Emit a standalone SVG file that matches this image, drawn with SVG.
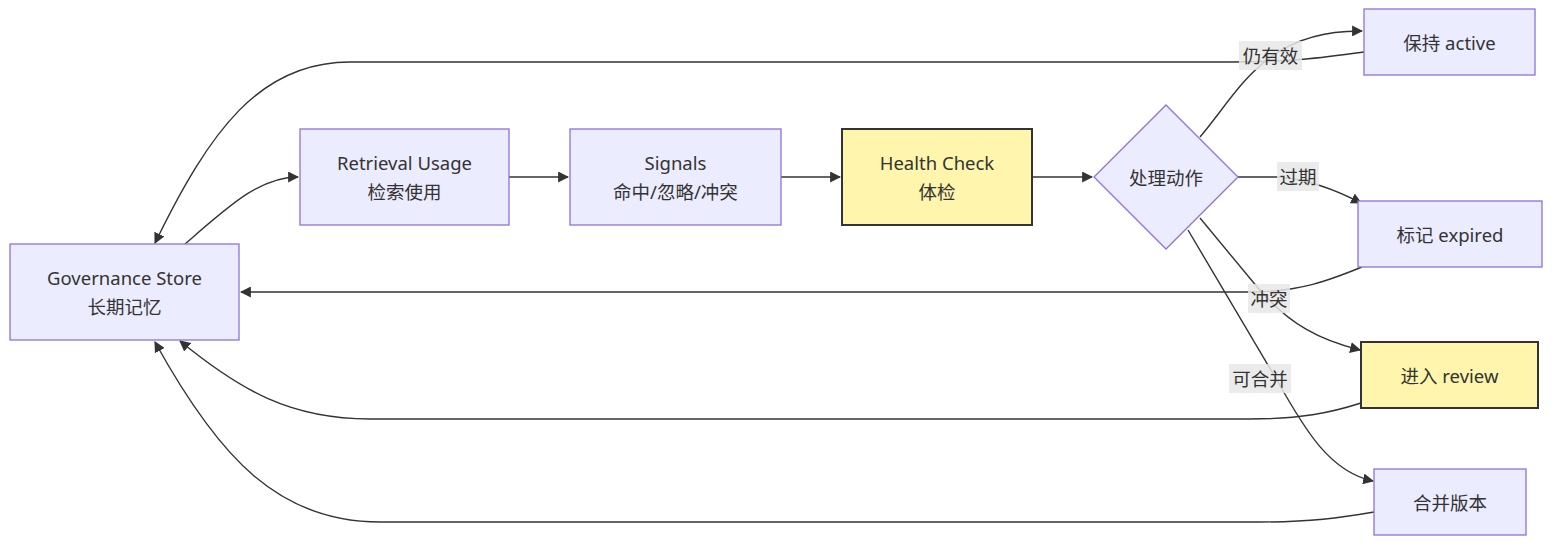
<svg xmlns="http://www.w3.org/2000/svg" width="1568" height="552" viewBox="0 0 1568 552">
<defs>
<marker id="arr" viewBox="0 0 10 10" refX="9" refY="5" markerWidth="11" markerHeight="11" markerUnits="userSpaceOnUse" orient="auto">
<path d="M0,0 L10,5 L0,10 z" fill="#333"/>
</marker>
<style>
.n{fill:#ECECFF;stroke:#9370DB;stroke-width:1.3}
.y{fill:#FFF5AD;stroke:#333;stroke-width:2}
.t{font-family:"Noto Sans","Noto Sans CJK SC",sans-serif;font-size:18.5px;fill:#333;text-anchor:middle;dominant-baseline:central}
.e{fill:none;stroke:#333;stroke-width:1.4}
.lb{fill:#E8E8E8;opacity:0.85}
</style>
</defs>
<rect width="1568" height="552" fill="#fff"/>
<g id="connectors">
<path class="e" d="M185,244 C230,205 260,177 298,177" marker-end="url(#arr)"/>
<path class="e" d="M509,177 L568,177" marker-end="url(#arr)"/>
<path class="e" d="M781,177 L840,177" marker-end="url(#arr)"/>
<path class="e" d="M1032,177 L1092,177" marker-end="url(#arr)"/>
<path class="e" d="M1200,137 C1240,90 1265,30 1362,31" marker-end="url(#arr)"/>
<path class="e" d="M1364,52 C1320,58 1290,62 1230,62 L350,62 C260,62 210,130 155,243" marker-end="url(#arr)"/>
<path class="e" d="M1238,177 L1280,177 C1310,180 1340,192 1361,203" marker-end="url(#arr)"/>
<path class="e" d="M1362,267 C1330,280 1300,292 1250,292 L241,292" marker-end="url(#arr)"/>
<path class="e" d="M1200,218 L1258,288 C1290,325 1320,340 1360,350" marker-end="url(#arr)"/>
<path class="e" d="M1361,403 C1330,413 1300,419 1250,419 L370,419 C290,419 240,390 180,341" marker-end="url(#arr)"/>
<path class="e" d="M1188,230 L1278,382 C1305,430 1330,472 1373,481" marker-end="url(#arr)"/>
<path class="e" d="M1374,512 C1340,518 1310,522 1260,522 L380,522 C280,522 220,460 155,342" marker-end="url(#arr)"/>
<rect class="lb" x="1239" y="41" width="63" height="29"/>
<text class="t" x="1270.5" y="55">仍有效</text>
<rect class="lb" x="1277" y="162" width="42" height="29"/>
<text class="t" x="1298" y="176">过期</text>
<rect class="lb" x="1248" y="284" width="42" height="29"/>
<text class="t" x="1269" y="298">冲突</text>
<rect class="lb" x="1229" y="364" width="62" height="29"/>
<text class="t" x="1260" y="378">可合并</text>
</g>
<g id="governance">
<rect class="n" x="10" y="244" width="229" height="96"/>
<text class="t" x="124.5" y="277">Governance Store</text>
<text class="t" x="124.5" y="306">长期记忆</text>
</g>
<g id="retrieval">
<rect class="n" x="300" y="129" width="209" height="96"/>
<text class="t" x="404.5" y="162">Retrieval Usage</text>
<text class="t" x="404.5" y="191">检索使用</text>
</g>
<g id="signals">
<rect class="n" x="570" y="129" width="211" height="96"/>
<text class="t" x="675.5" y="162">Signals</text>
<text class="t" x="675.5" y="191">命中/忽略/冲突</text>
</g>
<g id="health">
<rect class="y" x="842" y="129" width="190" height="96"/>
<text class="t" x="937" y="162">Health Check</text>
<text class="t" x="937" y="191">体检</text>
</g>
<g id="action">
<polygon class="n" points="1166,105 1238,177 1166,249 1094,177"/>
<text class="t" x="1166" y="177">处理动作</text>
</g>
<g id="active">
<rect class="n" x="1364" y="9" width="171" height="66"/>
<text class="t" x="1449.5" y="42">保持 active</text>
</g>
<g id="expired">
<rect class="n" x="1358" y="201" width="184" height="66"/>
<text class="t" x="1450" y="234">标记 expired</text>
</g>
<g id="review">
<rect class="y" x="1361" y="342" width="177" height="66"/>
<text class="t" x="1449.5" y="375">进入 review</text>
</g>
<g id="merge">
<rect class="n" x="1374" y="469" width="152" height="66"/>
<text class="t" x="1450" y="502">合并版本</text>
</g>
</svg>
